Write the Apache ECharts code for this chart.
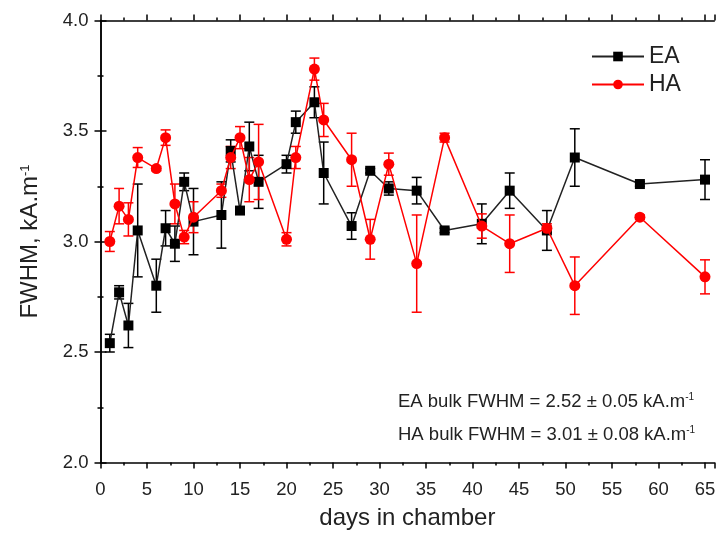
<!DOCTYPE html>
<html>
<head>
<meta charset="utf-8">
<script src="https://cdn.jsdelivr.net/npm/echarts@6/dist/echarts.min.js"></script>
<style>html,body{margin:0;padding:0;background:#fff}#c{width:720px;height:533px}</style>
</head>
<body>
<div id="c"></div>
<script>
const days = [1,2,3,4,6,7,8,9,10,13,14,15,16,17,20,21,23,24,27,29,31,34,37,41,44,48,51,58,65];
const eaValues = [2.54,2.77,2.62,3.05,2.80,3.06,2.99,3.27,3.09,3.12,3.41,3.14,3.43,3.27,3.35,3.54,3.63,3.31,3.07,3.32,3.24,3.23,3.05,3.08,3.23,3.05,3.38,3.26,3.28];
const eaErrors = [0.04,0.03,0.10,0.21,0.12,0.08,0.08,0.04,0.15,0.15,0.05,0.01,0.11,0.12,0.04,0.05,0.07,0.14,0.06,0.01,0.03,0.06,0.01,0.09,0.08,0.09,0.13,0.01,0.09];
const haValues = [3.00,3.16,3.10,3.38,3.33,3.47,3.17,3.02,3.11,3.23,3.38,3.47,3.28,3.36,3.01,3.38,3.78,3.55,3.37,3.01,3.35,2.90,3.47,3.07,2.99,3.06,2.80,3.11,2.84];
const haErrors = [0.045,0.08,0.075,0.045,0.01,0.035,0.09,0.03,0.07,0.03,0.05,0.05,0.10,0.17,0.03,0.05,0.05,0.075,0.12,0.09,0.05,0.22,0.02,0.055,0.13,0.02,0.13,0.01,0.077];
const yTicks = [2.0, 2.5, 3.0, 3.5, 4.0];
const xTicks = [0,5,10,15,20,25,30,35,40,45,50,55,60,65];

const FONT = 'Liberation Sans, Arial, sans-serif';
const TXT = '#222';

function pairs(vals){ return days.map((d,i)=>[d, vals[i]]); }
function errs(vals, e){ return days.map((d,i)=>[d, vals[i]-e[i], vals[i]+e[i]]); }

function errRender(params, api){
  const x = api.value(0), lo = api.value(1), hi = api.value(2);
  const p1 = api.coord([x, hi]), p2 = api.coord([x, lo]);
  const w = 5;
  const style = {stroke: api.visual('color'), lineWidth: 1.5};
  return {type:'group', children:[
    {type:'line', shape:{x1:p1[0],y1:p1[1],x2:p2[0],y2:p2[1]}, style:style},
    {type:'line', shape:{x1:p1[0]-w,y1:p1[1],x2:p1[0]+w,y2:p1[1]}, style:style},
    {type:'line', shape:{x1:p2[0]-w,y1:p2[1],x2:p2[0]+w,y2:p2[1]}, style:style}
  ]};
}

const axisLine = {show:true, lineStyle:{color:'#000', width:1.5}};
const majTick = {show:true, inside:false, length:6, lineStyle:{color:'#000', width:1.5}};
const minTick = {show:true, splitNumber:2, length:3, lineStyle:{color:'#000', width:1.5}};

const chart = echarts.init(document.getElementById('c'), null, {renderer:'canvas'});
chart.setOption({
  animation:false,
  backgroundColor:'#fff',
  grid:{left:100.5, right:5.7, top:20.5, bottom:70.5, containLabel:false, outerBoundsMode:'none'},
  legend:{
    data:['EA','HA'], orient:'vertical', left:586, top:40, itemGap:5,
    itemWidth:52, itemHeight:12,
    textStyle:{fontFamily:FONT, fontSize:23, color:TXT}
  },
  xAxis:[{
    type:'value', min:0, max:66, interval:5, position:'bottom',
    name:'days in chamber', nameLocation:'middle', nameGap:44,
    nameTextStyle:{fontFamily:FONT, fontSize:24, color:TXT},
    axisLine:axisLine, axisTick:majTick, minorTick:minTick,
    splitLine:{show:false},
    axisLabel:{fontFamily:FONT, fontSize:18.5, color:TXT, margin:18, showMaxLabel:false,
      formatter:v=> xTicks.indexOf(v)>=0 ? String(v) : ''}
  },{
    type:'value', min:0, max:66, interval:5, position:'top',
    axisLine:axisLine, axisTick:majTick, minorTick:minTick,
    splitLine:{show:false}, axisLabel:{show:false}
  }],
  yAxis:[{
    type:'value', min:2, max:4, interval:0.5, position:'left',
    name:'{a|FWHM, kA.m}{s|-1}', nameLocation:'middle', nameGap:58,
    nameTextStyle:{fontFamily:FONT, color:TXT, rich:{
      a:{fontFamily:FONT, fontSize:24, color:TXT},
      s:{fontFamily:FONT, fontSize:13, color:TXT, verticalAlign:'top'}
    }},
    axisLine:axisLine, axisTick:majTick, minorTick:minTick,
    splitLine:{show:false},
    axisLabel:{fontFamily:FONT, fontSize:18.5, color:TXT, margin:12,
      formatter:v=> yTicks.some(t=>Math.abs(t-v)<1e-9) ? v.toFixed(1) : ''}
  },{
    type:'value', min:2, max:4, interval:0.5, position:'right',
    axisLine:axisLine, axisTick:majTick, minorTick:minTick,
    splitLine:{show:false}, axisLabel:{show:false}
  }],
  series:[
    {name:'EA err', type:'custom', renderItem:errRender, itemStyle:{color:'#000'},
     encode:{x:0, y:[1,2]}, data:errs(eaValues, eaErrors), z:2},
    {name:'HA err', type:'custom', renderItem:errRender, itemStyle:{color:'#ff0000'},
     encode:{x:0, y:[1,2]}, data:errs(haValues, haErrors), z:2},
    {name:'EA', type:'line', data:pairs(eaValues), symbol:'rect', symbolSize:10,
     color:'#000', itemStyle:{color:'#000'}, lineStyle:{color:'#222', width:1.5}, z:3},
    {name:'HA', type:'line', data:pairs(haValues), symbol:'circle', symbolSize:11,
     color:'#ff0000', itemStyle:{color:'#ff0000'}, lineStyle:{color:'#ff0000', width:1.5}, z:4}
  ],
  graphic:[
    {type:'text', left:398, top:392, style:{
      text:'{a|EA bulk FWHM = 2.52 ± 0.05 kA.m}{s|-1}',
      rich:{a:{fontFamily:FONT, fontSize:18.5, fill:TXT}, s:{fontFamily:FONT, fontSize:10, fill:TXT, verticalAlign:'top'}}
    }},
    {type:'text', left:398, top:425, style:{
      text:'{a|HA bulk FWHM = 3.01 ± 0.08 kA.m}{s|-1}',
      rich:{a:{fontFamily:FONT, fontSize:18.5, fill:TXT}, s:{fontFamily:FONT, fontSize:10, fill:TXT, verticalAlign:'top'}}
    }}
  ]
});
</script>
</body>
</html>
